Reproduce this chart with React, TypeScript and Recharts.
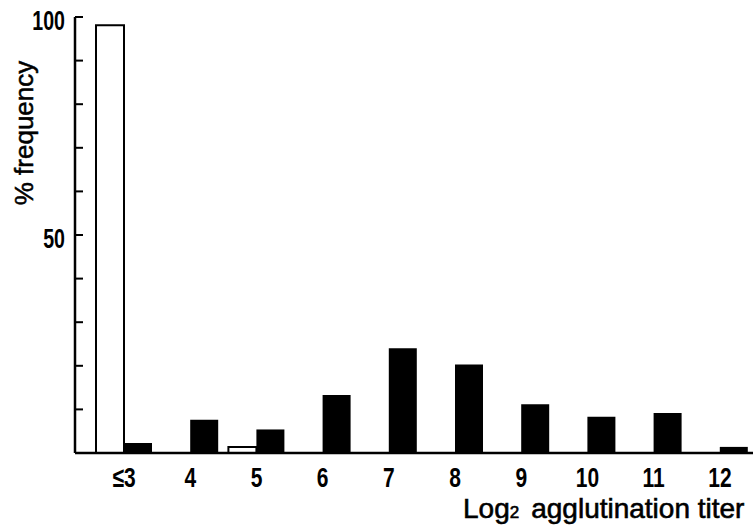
import React from 'react';
import { BarChart, Bar, XAxis, YAxis, Label } from 'recharts';

const categories = ['≤3', '4', '5', '6', '7', '8', '9', '10', '11', '12'];
const openValues: (number | null)[] = [98.1, null, 1.4, null, null, null, null, null, null, null];
const solidValues: number[] = [2.3, 7.6, 5.4, 13.3, 24.0, 20.3, 11.2, 8.3, 9.2, 1.4];
const yTicks = [0, 10, 20, 30, 40, 50, 60, 70, 80, 90, 100];
const yLabeled = [50, 100];

const data = categories.map((c, i) => ({ cat: c, open: openValues[i], solid: solidValues[i] }));

const FONT = '"Liberation Sans", Arial, sans-serif';

const XTick = (props: any) => {
  const { x, y, payload } = props;
  return (
    <text
      x={0}
      y={0}
      transform={`translate(${x},${y}) scale(0.75,1)`}
      dy={34}
      textAnchor="middle"
      fontFamily={FONT}
      fontWeight="bold"
      fontSize={28}
      fill="#000"
    >
      {payload.value}
    </text>
  );
};

const YTick = (props: any) => {
  const { x, y, payload } = props;
  if (!yLabeled.includes(payload.value)) return <g />;
  return (
    <text
      x={0}
      y={0}
      transform={`translate(${x},${y}) scale(0.7,1)`}
      dy={13}
      textAnchor="end"
      fontFamily={FONT}
      fontWeight="bold"
      fontSize={28}
      fill="#000"
    >
      {payload.value}
    </text>
  );
};

export default function App() {
  return (
    <div style={{ position: 'absolute', left: 0, top: 0, background: '#fff' }}>
      <BarChart
        width={753}
        height={525}
        data={data}
        margin={{ top: 17, right: 0, bottom: 0, left: 0 }}
        barSize={28}
        barGap={0}
      >
        <XAxis
          dataKey="cat"
          height={72}
          padding={{ left: 16, right: 0 }}
          tickLine={false}
          tickSize={0}
          tickMargin={0}
          tick={<XTick />}
          interval={0}
          axisLine={{ stroke: '#000', strokeWidth: 2.5 }}
        >
          <Label
            content={() => (
              <text x={463} y={518} fontFamily={FONT} fontSize={28} fill="#000" stroke="#000" strokeWidth={0.6}>
                <tspan>Log</tspan>
                <tspan fontSize={17} dy={0}>2</tspan>
                <tspan dx={12}>agglutination titer</tspan>
              </text>
            )}
          />
        </XAxis>
        <YAxis
          width={75}
          domain={[0, 100]}
          ticks={yTicks}
          interval={0}
          tickSize={-8}
          tickMargin={18}
          tick={<YTick />}
          tickLine={{ stroke: '#000', strokeWidth: 2 }}
          axisLine={{ stroke: '#000', strokeWidth: 2.5 }}
        >
          <Label
            content={() => (
              <text
                x={33}
                y={133}
                transform="rotate(-90,33,133)"
                textAnchor="middle"
                fontFamily={FONT}
                fontSize={26}
                fill="#000"
                stroke="#000"
                strokeWidth={0.5}
              >
                % frequency
              </text>
            )}
          />
        </YAxis>
        <Bar dataKey="open" fill="#fff" stroke="#000" strokeWidth={2} isAnimationActive={false} />
        <Bar dataKey="solid" fill="#000" isAnimationActive={false} />
      </BarChart>
    </div>
  );
}
